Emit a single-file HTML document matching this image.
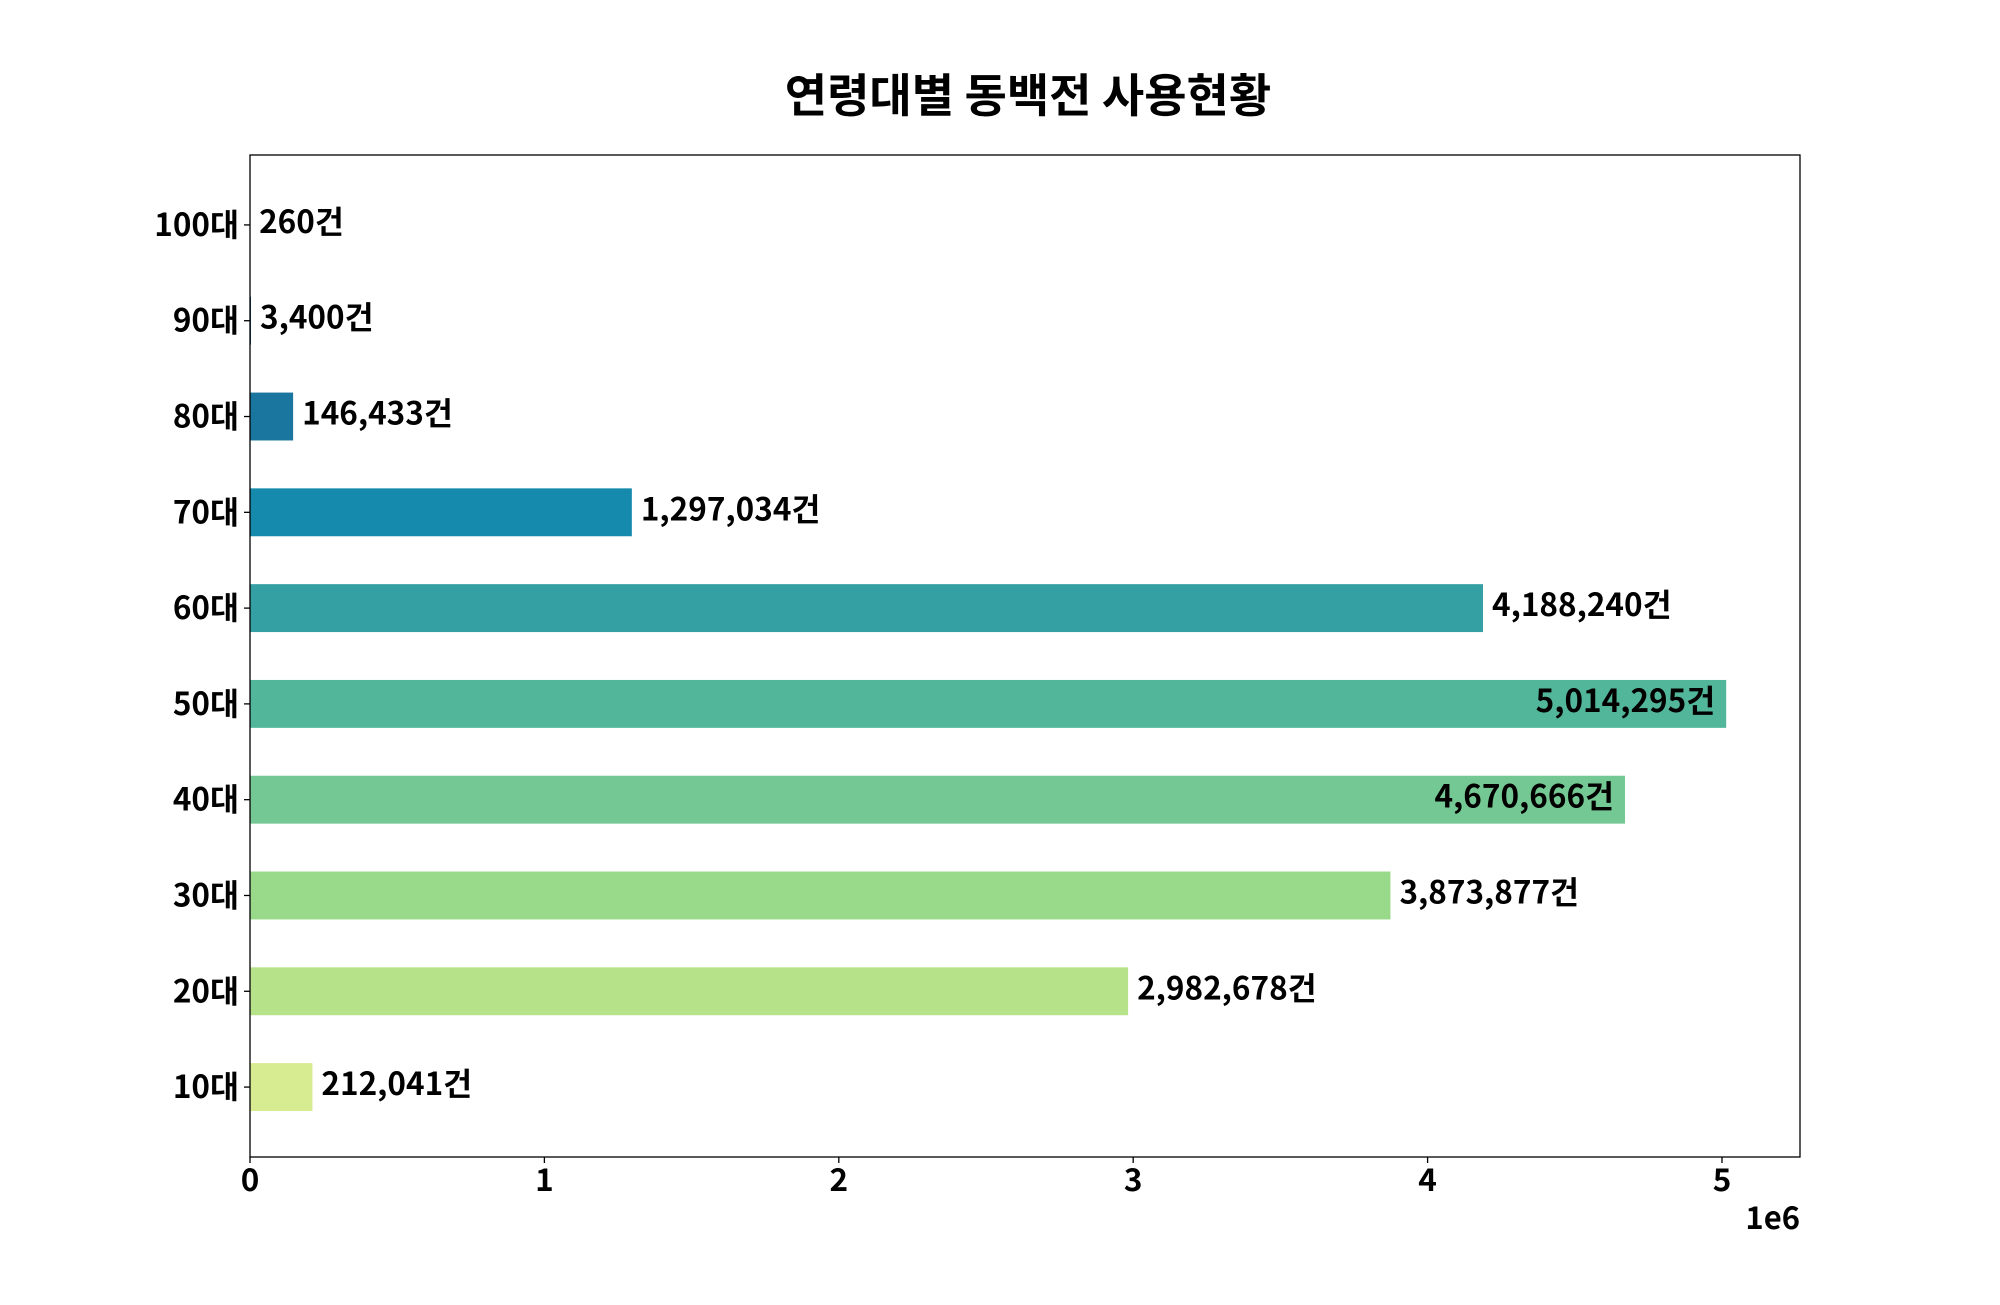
<!DOCTYPE html>
<html><head><meta charset="utf-8"><style>
html,body{margin:0;padding:0;background:#fff;}
svg text{font-family:"Noto Sans CJK KR","Liberation Sans",sans-serif;font-weight:bold;fill:#000;}
</style></head><body>
<svg id="chart" width="2000" height="1300" xmlns="http://www.w3.org/2000/svg">
<rect width="2000" height="1300" fill="#fff"/>
<text x="1028" y="112" font-size="46" text-anchor="middle">연령대별 동백전 사용현황</text>
<g id="plot"></g>
<rect x="250" y="155" width="1550" height="1002" fill="none" stroke="#000" stroke-width="1.3"/>
<text x="1800" y="1229" font-size="31" text-anchor="end">1e6</text>
</svg>
<script>
const categories = ["10대","20대","30대","40대","50대","60대","70대","80대","90대","100대"];
const values = [212041,2982678,3873877,4670666,5014295,4188240,1297034,146433,3400,260];
const colors = ["#d7ec91","#b6e38a","#98d98a","#74c893","#52b69a","#34a0a4","#168aad","#1a759f","#1e6091","#184e77"];
const xTicks = [0,1,2,3,4,5];
const xTickLabels = ["0","1","2","3","4","5"];

const L=250, R=1800, T=155, B=1157;
const xMax=5.265e6, yMin=-0.73, yMax=9.73;
const xs=v=>L+(v/xMax)*(R-L);
const ys=i=>B-(i-yMin)/(yMax-yMin)*(B-T);
const band=(B-T)/(yMax-yMin);
const NS="http://www.w3.org/2000/svg";
const g=document.getElementById('plot');
function mk(tag,attrs,parent){const e=document.createElementNS(NS,tag);for(const k in attrs)e.setAttribute(k,attrs[k]);(parent||g).appendChild(e);return e;}
const fmt=v=>v.toLocaleString('en-US')+'건';

categories.forEach((c,i)=>{
  const y=ys(i), h=band*0.5;
  const bar=mk('rect',{x:xs(0),y:y-h/2,width:xs(values[i])-xs(0),height:h,fill:colors[i]});
  
  
  const inside=values[i]>4.5e6;
  const lbl=mk('text',{x:inside?xs(values[i])-11:xs(values[i])+9,y:y+8,'font-size':31.5,'text-anchor':inside?'end':'start'});
  lbl.textContent=fmt(values[i]);
  
  
  const tk=mk('line',{x1:L-6,x2:L,y1:y,y2:y,stroke:'#000','stroke-width':1.3});
  
  
  const tl=mk('text',{x:L-11,y:y+11,'font-size':31.5,'text-anchor':'end'});
  tl.textContent=c;
  
  
});
xTicks.forEach((t,i)=>{
  const x=xs(t*1e6);
  const tk=mk('line',{x1:x,x2:x,y1:B,y2:B+6,stroke:'#000','stroke-width':1.3});
  
  
  const tl=mk('text',{x:x,y:B+34,'font-size':31.5,'text-anchor':'middle'});
  tl.textContent=xTickLabels[i];
  
  
});
</script>
</body></html>
